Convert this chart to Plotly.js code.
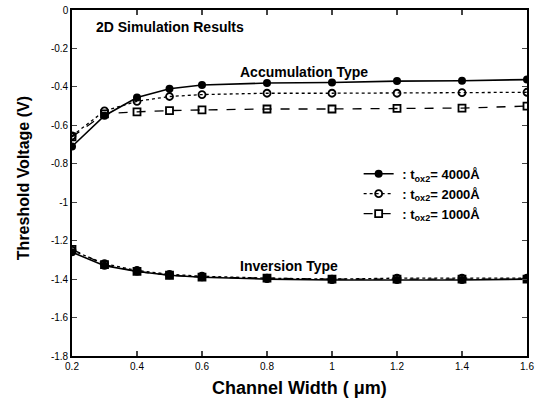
<!DOCTYPE html>
<html><head><meta charset="utf-8">
<script src="https://cdn.plot.ly/plotly-3.0.1.min.js"></script>
<style>body{margin:0;padding:0;background:#fff}#plot{width:537px;height:399px}</style>
</head><body><div id="plot"></div>
<script>
const widths = [0.2,0.3,0.4,0.5,0.6,0.8,1.0,1.2,1.4,1.6];
const acc4000 = [-0.71,-0.55,-0.455,-0.41,-0.39,-0.38,-0.377,-0.37,-0.368,-0.362];
const acc2000 = [-0.655,-0.525,-0.475,-0.45,-0.44,-0.433,-0.433,-0.433,-0.43,-0.428];
const acc1000 = [-0.66,-0.54,-0.53,-0.523,-0.52,-0.515,-0.515,-0.512,-0.51,-0.5];
const inv4000 = [-1.26,-1.33,-1.36,-1.38,-1.39,-1.40,-1.405,-1.405,-1.405,-1.40];
const inv2000 = [-1.25,-1.32,-1.355,-1.375,-1.385,-1.395,-1.40,-1.395,-1.395,-1.395];
const inv1000 = [-1.245,-1.325,-1.36,-1.38,-1.39,-1.395,-1.40,-1.40,-1.40,-1.40];
const yTicks = [0,-0.2,-0.4,-0.6,-0.8,-1,-1.2,-1.4,-1.6,-1.8];
const yTickText = ['0','-0.2','-0.4','-0.6','-0.8','-1','-1.2','-1.4','-1.6','-1.8'];
const xTicks = [0.2,0.4,0.6,0.8,1,1.2,1.4,1.6];
const xTickText = ['0.2','0.4','0.6','0.8','1','1.2','1.4','1.6'];
const names = ['<b>&nbsp;: t<sub>ox2</sub>= 4000Å</b>','<b>&nbsp;: t<sub>ox2</sub>= 2000Å</b>','<b>&nbsp;: t<sub>ox2</sub>= 1000Å</b>'];

const styles = [
  {line:{color:'#000',width:1.6,dash:'solid'}, marker:{symbol:'circle',size:8,color:'#000'}},
  {line:{color:'#000',width:1.3,dash:'dot'}, marker:{symbol:'circle-open',size:7,color:'#000',line:{width:1.8,color:'#000'}}},
  {line:{color:'#000',width:1.3,dash:'dash'}, marker:{symbol:'square-open',size:7,color:'#000',line:{width:1.8,color:'#000'}}}
];
const accs = [acc4000,acc2000,acc1000];
const invs = [inv4000,inv2000,inv1000];
const data = [];
for (let i=0;i<3;i++){
  data.push(Object.assign({x:widths,y:accs[i],mode:'lines+markers',type:'scatter',name:names[i],showlegend:true,legendgroup:'g'+i}, styles[i]));
}
for (let i=0;i<3;i++){
  data.push(Object.assign({x:widths,y:invs[i],mode:'lines+markers',type:'scatter',name:names[i],showlegend:false,legendgroup:'g'+i}, styles[i]));
}
const font = 'Liberation Sans, Arial, sans-serif';
const layout = {
  width:537,height:399,
  margin:{l:72,r:10,t:10,b:43},
  paper_bgcolor:'#fff',plot_bgcolor:'#fff',
  font:{family:font,color:'#000'},
  xaxis:{range:[0.2,1.6],tickvals:xTicks,ticktext:xTickText,ticks:'inside',ticklen:5,tickwidth:1.2,
    showline:true,linewidth:1.8,linecolor:'#000',mirror:'ticks',showgrid:false,zeroline:false,
    tickfont:{size:10,family:font}},
  yaxis:{range:[-1.8,0],tickvals:yTicks,ticktext:yTickText,ticks:'inside',ticklen:5,tickwidth:1.2,
    showline:true,linewidth:1.8,linecolor:'#000',mirror:'ticks',showgrid:false,zeroline:false,
    tickfont:{size:10,family:font}},
  legend:{x:0.63,y:0.57,xanchor:'left',yanchor:'top',bgcolor:'rgba(0,0,0,0)',font:{size:13,family:font},itemwidth:30,tracegroupgap:0},
  annotations:[
    {xref:'paper',yref:'paper',x:0.5,y:-0.0925,xanchor:'center',yanchor:'middle',text:'<b>Channel Width ( μm)</b>',showarrow:false,font:{size:18,family:font}},
    {xref:'paper',yref:'paper',x:-0.1077,y:0.514,xanchor:'center',yanchor:'middle',textangle:-90,text:'<b>Threshold Voltage (V)</b>',showarrow:false,font:{size:16,family:font}},
    {xref:'paper',yref:'paper',x:0.048,y:0.95,xanchor:'left',yanchor:'middle',text:'<b>2D Simulation Results</b>',showarrow:false,font:{size:14,family:font}},
    {xref:'x',yref:'y',x:0.71,y:-0.325,xanchor:'left',yanchor:'middle',text:'<b>Accumulation Type</b>',showarrow:false,font:{size:14,family:font}},
    {xref:'x',yref:'y',x:0.71,y:-1.33,xanchor:'left',yanchor:'middle',text:'<b>Inversion Type</b>',showarrow:false,font:{size:14,family:font}}
  ]
};
Plotly.newPlot('plot',data,layout,{displayModeBar:false,staticPlot:true});
</script></body></html>
